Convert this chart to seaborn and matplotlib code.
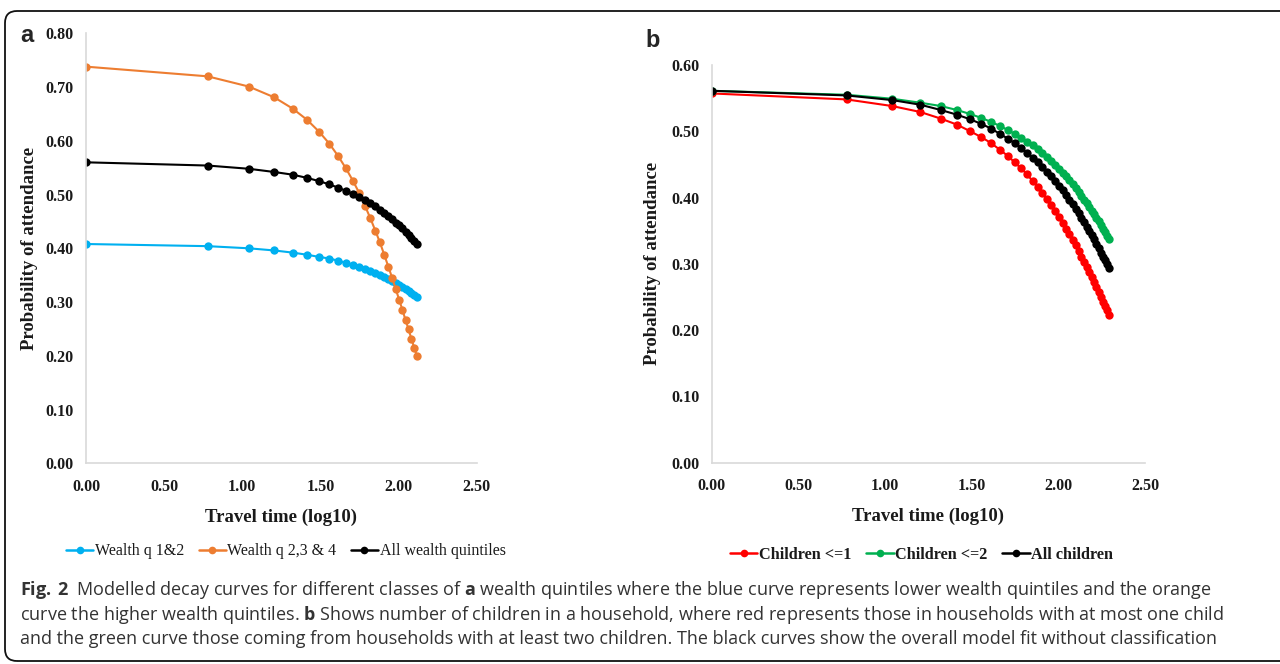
import numpy as np
import pandas as pd
import matplotlib
matplotlib.use("Agg")
import matplotlib.pyplot as plt
import seaborn as sns
from matplotlib.lines import Line2D
from matplotlib.patches import FancyBboxPatch

# ---------------- data ----------------
minutes_a = [1, 6, 11, 16, 21, 26, 31, 36, 41, 46, 51, 56, 61, 66, 71, 76, 81, 86,
             91, 96, 101, 106, 111, 116, 121, 126, 131]
wealth_q12 = [0.408, 0.404, 0.400, 0.396, 0.392, 0.388, 0.384, 0.381, 0.377, 0.373,
              0.369, 0.365, 0.361, 0.358, 0.354, 0.350, 0.346, 0.343, 0.339, 0.335,
              0.332, 0.328, 0.324, 0.321, 0.317, 0.314, 0.310]
wealth_q234 = [0.738, 0.720, 0.701, 0.681, 0.660, 0.639, 0.617, 0.595, 0.572, 0.549,
               0.526, 0.503, 0.479, 0.456, 0.433, 0.411, 0.388, 0.366, 0.345, 0.324,
               0.304, 0.285, 0.266, 0.249, 0.231, 0.215, 0.200]
wealth_all = [0.560, 0.554, 0.548, 0.542, 0.537, 0.531, 0.525, 0.519, 0.513, 0.507,
              0.501, 0.495, 0.490, 0.484, 0.478, 0.472, 0.466, 0.460, 0.454, 0.448,
              0.443, 0.437, 0.431, 0.425, 0.420, 0.414, 0.408]

minutes_b = [1, 6, 11, 16, 21, 26, 31, 36, 41, 46, 51, 56, 61, 66, 71, 76, 81, 86,
             91, 96, 101, 106, 111, 116, 121, 126, 131, 136, 141, 146, 151, 156, 161,
             166, 171, 176, 181, 186, 191, 196]
children_le1 = [0.557, 0.548, 0.538, 0.529, 0.519, 0.510, 0.500, 0.491, 0.482, 0.472,
                0.463, 0.453, 0.444, 0.435, 0.425, 0.416, 0.407, 0.398, 0.389, 0.380,
                0.371, 0.362, 0.353, 0.345, 0.336, 0.328, 0.320, 0.311, 0.303, 0.295,
                0.288, 0.280, 0.272, 0.265, 0.258, 0.250, 0.243, 0.236, 0.230, 0.223]
children_le2 = [0.561, 0.555, 0.549, 0.543, 0.538, 0.532, 0.526, 0.520, 0.514, 0.508,
                0.502, 0.496, 0.490, 0.484, 0.479, 0.473, 0.467, 0.461, 0.455, 0.449,
                0.443, 0.437, 0.432, 0.426, 0.420, 0.414, 0.409, 0.403, 0.397, 0.392,
                0.386, 0.380, 0.375, 0.369, 0.364, 0.358, 0.353, 0.348, 0.342, 0.337]
children_all = [0.561, 0.554, 0.547, 0.540, 0.532, 0.525, 0.518, 0.511, 0.504, 0.496,
                0.489, 0.482, 0.475, 0.467, 0.460, 0.453, 0.446, 0.439, 0.432, 0.425,
                0.418, 0.411, 0.404, 0.397, 0.390, 0.383, 0.376, 0.369, 0.363, 0.356,
                0.350, 0.343, 0.337, 0.330, 0.324, 0.317, 0.311, 0.305, 0.299, 0.293]

labels_a = ["Wealth q 1&2", "Wealth q 2,3 & 4", "All wealth quintiles"]
labels_b = ["Children <=1", "Children <=2", "All children"]
colors_a = ["#00B0F0", "#ED7D31", "#000000"]
colors_b = ["#FF0000", "#00B050", "#000000"]

x_ticks = [0.0, 0.5, 1.0, 1.5, 2.0, 2.5]
y_ticks_a = [0.0, 0.1, 0.2, 0.3, 0.4, 0.5, 0.6, 0.7, 0.8]
y_ticks_b = [0.0, 0.1, 0.2, 0.3, 0.4, 0.5, 0.6]

x_label = "Travel time (log10)"
y_label = "Probability of attendance"

caption_lines = [
    r"$\mathbf{Fig.\,2}$  Modelled decay curves for different classes of $\mathbf{a}$ wealth quintiles where the blue curve represents lower wealth quintiles and the orange",
    r"curve the higher wealth quintiles. $\mathbf{b}$ Shows number of children in a household, where red represents those in households with at most one child",
    r"and the green curve those coming from households with at least two children. The black curves show the overall model fit without classification",
]

# ---------------- build frames ----------------
def make_df(minutes, series, labels):
    rows = []
    for lab, vals in zip(labels, series):
        for m, v in zip(minutes, vals):
            rows.append({"x": np.log10(m), "p": v, "series": lab})
    return pd.DataFrame(rows)

df_a = make_df(minutes_a, [wealth_q12, wealth_q234, wealth_all], labels_a)
df_b = make_df(minutes_b, [children_le1, children_le2, children_all], labels_b)

# ---------------- style ----------------
sns.set_theme(style="white")
plt.rcParams["font.family"] = ["Liberation Serif", "DejaVu Serif"]
plt.rcParams["mathtext.fontset"] = "custom"
plt.rcParams["mathtext.rm"] = "Open Sans"
plt.rcParams["mathtext.bf"] = "Open Sans:bold"

fig = plt.figure(figsize=(12.8, 6.64), dpi=100)
fig.patch.set_facecolor("white")

ax_a = fig.add_axes([0.0672, 0.3023, 0.3052, 0.6475])
ax_b = fig.add_axes([0.5560, 0.3032, 0.3385, 0.5990])

def draw(ax, df, labels, colors, yticks, ylim, ylab_x, xlab_y):
    pal = dict(zip(labels, colors))
    sns.lineplot(data=df, x="x", y="p", hue="series", hue_order=labels, palette=pal,
                 marker="o", markersize=6, markeredgewidth=0, linewidth=1.5,
                 legend=False, ax=ax, sort=False)
    ax.set_xlim(0, 2.5)
    ax.set_ylim(0, ylim)
    ax.set_xticks(x_ticks)
    ax.set_yticks(yticks)
    ax.set_xticklabels([f"{v:.2f}" for v in x_ticks], fontsize=11.5, fontweight="bold")
    ax.set_yticklabels([f"{v:.2f}" for v in yticks], fontsize=11.5, fontweight="bold")
    ax.tick_params(axis="both", length=0, colors="#1a1a1a")
    ax.tick_params(axis="x", pad=11)
    ax.tick_params(axis="y", pad=9)
    for s in ["top", "right"]:
        ax.spines[s].set_visible(False)
    for s in ["left", "bottom"]:
        ax.spines[s].set_color("#D9D9D9")
        ax.spines[s].set_linewidth(1.2)
    ax.set_xlabel(x_label, fontsize=13.5, fontweight="bold", color="#1a1a1a")
    ax.set_ylabel(y_label, fontsize=13.5, fontweight="bold", color="#1a1a1a")
    ax.xaxis.set_label_coords(0.5, xlab_y)
    ax.yaxis.set_label_coords(ylab_x, 0.5)
    ax.grid(False)

draw(ax_a, df_a, labels_a, colors_a, y_ticks_a, 0.8, -0.122, -0.105)
draw(ax_b, df_b, labels_b, colors_b, y_ticks_b, 0.6, -0.117, -0.113)

def legend(labels, colors, anchor, weight, size):
    handles = [Line2D([0], [0], color=c, lw=1.8, marker="o", markersize=5.5,
                      markeredgewidth=0) for c in colors]
    leg = fig.legend(handles, labels, loc="center", bbox_to_anchor=anchor, ncol=3,
                     frameon=False, handlelength=1.7, handletextpad=0.1,
                     columnspacing=0.9,
                     prop={"family": "Liberation Serif", "weight": weight, "size": size})
    for t in leg.get_texts():
        t.set_color("#1a1a1a")

legend(labels_a, colors_a, (0.2234, 0.170), "normal", 11.5)
legend(labels_b, colors_b, (0.7200, 0.164), "bold", 11.7)

fig.text(0.0207, 0.9367, "a", family="Liberation Sans", fontweight="bold",
         fontsize=17, ha="center", va="baseline")
fig.text(0.5102, 0.9292, "b", family="Liberation Sans", fontweight="bold",
         fontsize=17, ha="center", va="baseline")

cap_y = [1 - 595 / 664, 1 - 619.5 / 664, 1 - 644 / 664]
for line, y in zip(caption_lines, cap_y):
    fig.text(20 / 1280, y, line, family="Open Sans", fontsize=13,
             color="#333333", ha="left", va="baseline")

# rounded frame
frame = FancyBboxPatch((0.05, 0.03), 13.2, 6.50,
                       boxstyle="round,pad=0,rounding_size=0.12",
                       transform=fig.dpi_scale_trans, facecolor="none",
                       edgecolor="#111111", linewidth=1.3, clip_on=False)
fig.patches.append(frame)

fig.savefig("out.png", dpi=100, facecolor="white")
